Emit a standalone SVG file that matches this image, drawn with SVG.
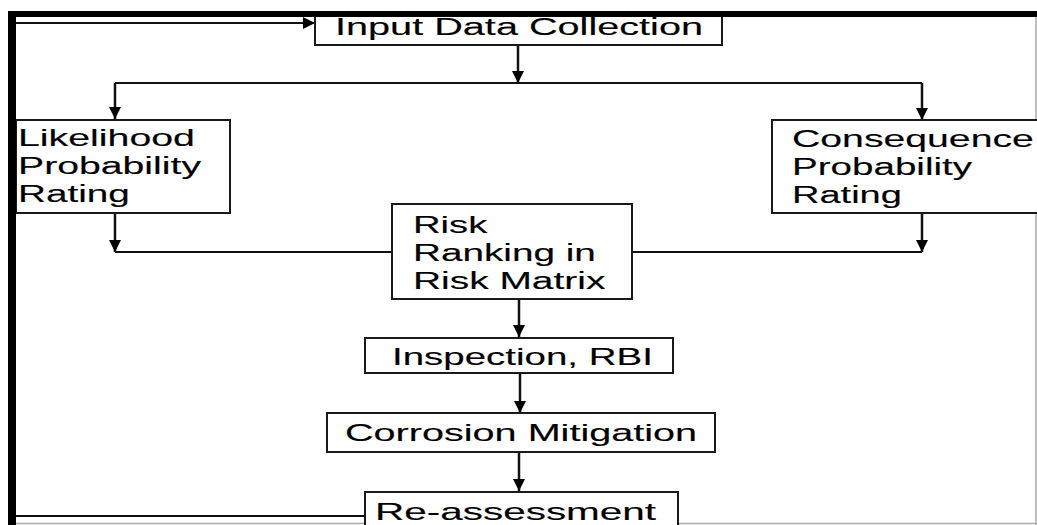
<svg xmlns="http://www.w3.org/2000/svg" width="1037" height="525" viewBox="0 0 1037 525">
<style>
.box{fill:#fff;stroke:#1a1a1a;stroke-width:2}
.t{font-family:"Liberation Sans",Arial,sans-serif;font-size:23px;fill:#000;stroke:#000;stroke-width:0.12}
.c{fill:none;stroke:#111;stroke-width:2}
.v{fill:none;stroke:#111;stroke-width:2.5}
</style>
<defs>
<marker id="ah" markerUnits="userSpaceOnUse" markerWidth="12" markerHeight="12" viewBox="0 0 10 10" refX="10" refY="5" orient="auto">
<path d="M0,0 L10,5 L0,10 z" fill="#000"/>
</marker>
</defs>
<rect width="1037" height="525" fill="#fff"/>
<g id="frame">
<line x1="1036" y1="14" x2="1036" y2="525" stroke="#aaa" stroke-width="1.5"/>
<line x1="12" y1="523.5" x2="1037" y2="523.5" stroke="#aaa" stroke-width="1.5"/>
</g>
<g id="connectors">
<path class="c" d="M365,516 H12"/>
<path class="c" d="M16,23 H315" marker-end="url(#ah)"/>
<path class="v" d="M518,45 V83" marker-end="url(#ah)"/>
<path class="c" d="M115,83 H922"/>
<path class="v" d="M115,83 V119" marker-end="url(#ah)"/>
<path class="v" d="M922,83 V120" marker-end="url(#ah)"/>
<path class="v" d="M115,213 V252" marker-end="url(#ah)"/>
<path class="v" d="M922,213 V252" marker-end="url(#ah)"/>
<path class="c" d="M115,252 H392"/>
<path class="c" d="M632,252 H922"/>
<path class="v" d="M519,299 V337" marker-end="url(#ah)"/>
<path class="v" d="M520,373 V413" marker-end="url(#ah)"/>
<path class="v" d="M519,452 V491" marker-end="url(#ah)"/>
</g>
<g id="input">
<rect class="box" x="315" y="12" width="407" height="33"/>
<text class="t" transform="translate(335,35) scale(1.724,1)">Input Data Collection</text>
</g>
<g id="likelihood">
<rect class="box" x="16" y="120" width="214" height="93"/>
<text class="t" transform="translate(18,146) scale(1.709,1)">Likelihood</text>
<text class="t" transform="translate(18,174) scale(1.705,1)">Probability</text>
<text class="t" transform="translate(18,202) scale(1.683,1)">Rating</text>
</g>
<g id="consequence">
<rect class="box" x="772" y="120" width="266" height="93"/>
<text class="t" transform="translate(792,147) scale(1.705,1)">Consequence</text>
<text class="t" transform="translate(792,175) scale(1.677,1)">Probability</text>
<text class="t" transform="translate(792,203) scale(1.653,1)">Rating</text>
</g>
<g id="risk">
<rect class="box" x="392" y="204" width="240" height="95"/>
<text class="t" transform="translate(413,233) scale(1.663,1)">Risk</text>
<text class="t" transform="translate(413,261) scale(1.683,1)">Ranking in</text>
<text class="t" transform="translate(413,289) scale(1.692,1)">Risk Matrix</text>
</g>
<g id="inspection">
<rect class="box" x="365" y="338" width="308" height="35"/>
<text class="t" transform="translate(392,365) scale(1.673,1)">Inspection, RBI</text>
</g>
<g id="corrosion">
<rect class="box" x="327" y="413" width="388" height="39"/>
<text class="t" transform="translate(345,441) scale(1.722,1)">Corrosion Mitigation</text>
</g>
<g id="reassessment">
<rect class="box" x="365" y="492" width="313" height="40"/>
<text class="t" transform="translate(375,520) scale(1.76,1)">Re-assessment</text>
</g>
<g id="frame-thick">
<rect x="8" y="11" width="1029" height="6" fill="#000"/>
<rect x="8" y="11" width="8" height="514" fill="#000"/>
</g>
</svg>
